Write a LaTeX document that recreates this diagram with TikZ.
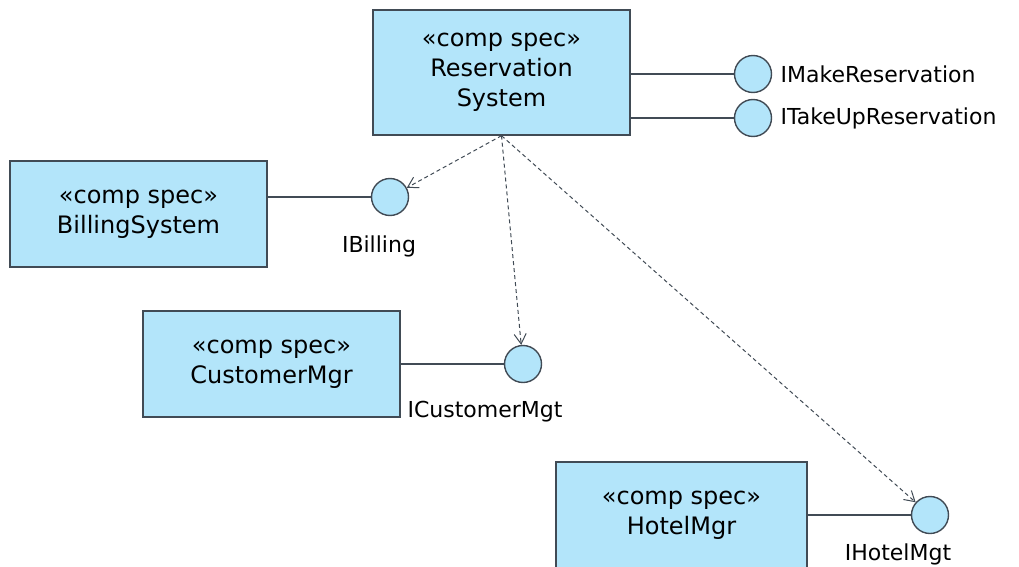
\documentclass[tikz,border=0pt]{standalone}
\usepackage{fontspec}
\setmainfont{DejaVu Sans}
\usepackage{tikz}
\usepackage{xcolor}
\usetikzlibrary{arrows,arrows.meta,calc,positioning,shapes}
\definecolor{compblue}{RGB}{179,229,250}
\definecolor{compline}{RGB}{65,75,85}
\tikzset{every scope/.style={>=to,thick}}
\tikzstyle{comp_spec} =
  [ rectangle
  , draw=compline
  , fill=compblue
  , line width=1.4pt
  , minimum width=257pt
  , minimum height=106pt
  , align=center
  , font=\fontsize{24}{30}\selectfont
  ]
\tikzstyle{iface} =
  [ circle
  , draw=compline
  , fill=compblue
  , line width=1.4pt
  , minimum size=37pt
  , inner sep=0pt
  ]
\tikzstyle{iface_label} =
  [ font=\fontsize{22}{26}\selectfont
  , inner sep=0pt
  ]
\tikzstyle{provides} =
  [ draw=compline
  , line width=1.4pt
  ]
\tikzstyle{uses} =
  [ -{Straight Barb[length=10pt,width=12pt]}
  , dash pattern=on 4pt off 3pt
  , draw=compline
  , line width=1pt
  ]
\def\CompSpec{<<comp spec>>}

\begin{document}
\begin{tikzpicture}[x=1pt,y=-1pt]
    \useasboundingbox (0,0) rectangle (1019,567);

    \node[comp_spec,minimum height=125pt] (reservation) at (501.5, 72.5) {\CompSpec\\Reservation\\System};
    \node[iface] (imake)    at (753, 74)  {};
    \node[iface] (itakeup)  at (753, 118) {};
    \draw[provides] (imake.west)   -- (imake.west -| reservation.east);
    \draw[provides] (itakeup.west) -- (itakeup.west -| reservation.east);
    \node[iface_label,right=8pt of imake]   (imake_label)   {IMakeReservation};
    \node[iface_label,right=8pt of itakeup] (itakeup_label) {ITakeUpReservation};

    \node[comp_spec] (billing)  at (138.5, 214) {\CompSpec\\BillingSystem};
    \node[iface]     (ibilling) at (390, 197)   {};
    \draw[provides] (ibilling.west) -- (ibilling.west -| billing.east);
    \node[iface_label,below=19pt of ibilling,xshift=-11pt] (ibilling_label) {IBilling};

    \node[comp_spec] (customer) at (271.5, 364) {\CompSpec\\CustomerMgr};
    \node[iface]     (icustomer) at (523, 364)  {};
    \draw[provides] (icustomer.west) -- (icustomer.west -| customer.east);
    \node[iface_label,below=18pt of icustomer,xshift=-38pt] (icustomer_label) {ICustomerMgt};

    \node[comp_spec,minimum width=251pt] (hotel) at (681.5, 515) {\CompSpec\\HotelMgr};
    \node[iface]     (ihotel) at (930, 515) {};
    \draw[provides] (ihotel.west) -- (ihotel.west -| hotel.east);
    \node[iface_label,below=9pt of ihotel,xshift=-32pt] (ihotel_label) {IHotelMgt};

    \draw[uses] (reservation.south) -- (ibilling);
    \draw[uses] (reservation.south) -- (icustomer);
    \draw[uses] (reservation.south) -- (ihotel);
  \end{tikzpicture}
\end{document}
